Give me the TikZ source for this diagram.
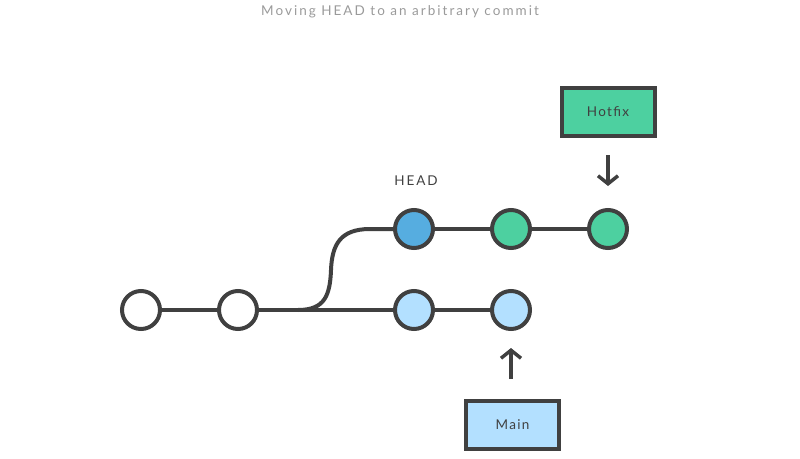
\documentclass[tikz,border=0pt]{standalone}
\usepackage{fontspec}
\setmainfont{Lato}
\usetikzlibrary{arrows.meta}
\definecolor{ink}{HTML}{404040}
\definecolor{grn}{HTML}{4DD0A0}
\definecolor{lblue}{HTML}{B3E0FF}
\definecolor{hblue}{HTML}{56ADE0}
\definecolor{ttl}{HTML}{9A9A9A}
\newfontfamily\titlefont[LetterSpace=15]{Lato}
\newfontfamily\headfont[LetterSpace=14]{Lato}
\newfontfamily\boxfont[LetterSpace=10]{Lato}
\tikzset{
  commit/.style={circle, draw=ink, line width=4pt, minimum size=38pt, inner sep=0pt},
  edge/.style={draw=ink, line width=4pt},
  branchbox/.style={draw=ink, line width=4pt, minimum width=93pt, minimum height=48pt, inner sep=0pt, text=ink, font=\boxfont\fontsize{13.5}{15}\selectfont},
  ptr/.style={draw=ink, line width=3.5pt, -{Straight Barb[length=8pt,width=20pt]}}
}
\begin{document}
\begin{tikzpicture}[x=1pt,y=-1pt]
\useasboundingbox (0,0) rectangle (800,458);
\node[text=ttl, font=\titlefont\fontsize{13.5}{15}\selectfont] (title) at (400,11.5) {Moving HEAD to an arbitrary commit};
\node[commit, fill=white] (c1) at (141,310) {};
\node[commit, fill=white] (c2) at (238,310) {};
\node[commit, fill=lblue] (m1) at (414,310) {};
\node[commit, fill=lblue] (m2) at (511,310) {};
\node[commit, fill=hblue] (h) at (414,229) {};
\node[commit, fill=grn] (g1) at (511,229) {};
\node[commit, fill=grn] (g2) at (608,229) {};
\node[text=ink, font=\headfont\fontsize{13.5}{15}\selectfont] (headlbl) at (416,181) {HEAD};
\node[branchbox, fill=grn] (hotfix) at (608,111.5) {Hotfix};
\node[branchbox, fill=lblue] (main) at (512.5,424.5) {Main};
\coordinate (hs) at (608,155);
\coordinate (he) at (608,186);
\coordinate (ms) at (511,379);
\coordinate (me) at (511,348);
\coordinate (fork) at (298,310);
\draw[edge] (c1) -- (c2);
\draw[edge] (c2) -- (m1);
\draw[edge] (m1) -- (m2);
\draw[edge] (fork) .. controls (325,310) and (330,295) .. (331,270) .. controls (332,245) and (340,229) .. (370,229) -- (h.west);
\draw[edge] (h) -- (g1);
\draw[edge] (g1) -- (g2);
\draw[ptr] (hs) -- (he);
\draw[ptr] (ms) -- (me);
\end{tikzpicture}
\end{document}
